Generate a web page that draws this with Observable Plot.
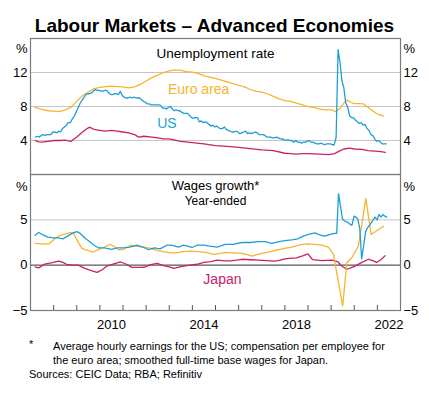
<!DOCTYPE html>
<html>
<head>
<meta charset="utf-8">
<script src="https://cdn.jsdelivr.net/npm/d3@7"></script>
<script src="https://cdn.jsdelivr.net/npm/@observablehq/plot@0.6"></script>
<style>
  html, body { margin: 0; padding: 0; background: #fff; }
  #root { position: relative; width: 429px; height: 398px; font-family: Arial, "Liberation Sans", sans-serif; color: #000; }
  .abs { position: absolute; }
  #title { left: 0; width: 429px; top: 15px; text-align: center; font-weight: bold; font-size: 19px; line-height: 22px; }
  .fn { font-size: 11px; line-height: 14px; white-space: nowrap; }
</style>
</head>
<body>
<div id="root">
  <div id="title" class="abs">Labour Markets – Advanced Economies</div>
  <div id="topPanel" class="abs" style="left:0;top:30px"></div>
  <div id="botPanel" class="abs" style="left:0;top:174px"></div>
  <div class="abs fn" style="left:29px;top:337px">*</div>
  <div class="abs fn" style="left:53px;top:339px">Average hourly earnings for the US; compensation per employee for</div>
  <div class="abs fn" style="left:53px;top:353px">the euro area; smoothed full-time base wages for Japan.</div>
  <div class="abs fn" style="left:29px;top:367px">Sources: CEIC Data; RBA; Refinitiv</div>
</div>
<script>
// ---------- DATA ----------
// US unemployment rate, monthly, from March 2007
const usUnempStart = [2007, 3];
const usUnemp = [
  4.4, 4.5, 4.4, 4.6, 4.7, 4.6, 4.7, 4.7, 4.7, 5.0,
  5.0, 4.9, 5.1, 5.0, 5.4, 5.6, 5.8, 6.1, 6.1, 6.5, 6.8, 7.3,
  7.8, 8.3, 8.7, 9.0, 9.4, 9.5, 9.5, 9.6, 9.8, 10.0, 9.9, 9.9,
  9.8, 9.8, 9.9, 9.9, 9.6, 9.4, 9.4, 9.5, 9.5, 9.4, 9.8, 9.3,
  9.1, 9.0, 9.0, 9.1, 9.0, 9.1, 9.0, 9.0, 9.0, 8.8, 8.6, 8.5,
  8.3, 8.3, 8.2, 8.2, 8.2, 8.2, 8.2, 8.1, 7.8, 7.8, 7.7, 7.9,
  8.0, 7.7, 7.5, 7.6, 7.5, 7.5, 7.3, 7.2, 7.2, 7.2, 6.9, 6.7,
  6.6, 6.7, 6.7, 6.2, 6.3, 6.1, 6.2, 6.1, 5.9, 5.7, 5.8, 5.6,
  5.7, 5.5, 5.4, 5.4, 5.6, 5.3, 5.2, 5.1, 5.0, 5.0, 5.1, 5.0,
  4.8, 4.9, 5.0, 5.1, 4.8, 4.9, 4.8, 4.9, 5.0, 4.9, 4.7, 4.7,
  4.7, 4.6, 4.4, 4.4, 4.4, 4.3, 4.3, 4.4, 4.3, 4.2, 4.2, 4.1,
  4.0, 4.1, 4.0, 4.0, 3.8, 4.0, 3.8, 3.8, 3.7, 3.8, 3.8, 3.9,
  4.0, 3.8, 3.8, 3.7, 3.6, 3.6, 3.7, 3.6, 3.5, 3.6, 3.6, 3.6,
  3.5, 3.5, 4.4, 14.7, 13.2, 11.0, 10.2, 8.4, 7.9, 6.9, 6.7, 6.7,
  6.4, 6.2, 6.0, 6.1, 5.8, 5.9, 5.4, 5.2, 4.7, 4.6, 4.2, 3.9,
  4.0, 3.8, 3.6, 3.6, 3.6
];
// Euro area unemployment rate [year, %]
const euroUnemp = [
  [2007.2, 7.9], [2007.5, 7.65], [2007.75, 7.5], [2008.0, 7.45], [2008.25, 7.4], [2008.5, 7.6],
  [2008.75, 7.9], [2009.0, 8.6], [2009.25, 9.3], [2009.5, 9.7], [2009.75, 10.1], [2010.0, 10.25],
  [2010.25, 10.35], [2010.5, 10.4], [2010.75, 10.35], [2011.0, 10.3], [2011.25, 10.2], [2011.5, 10.3],
  [2011.75, 10.6], [2012.0, 11.0], [2012.25, 11.4], [2012.5, 11.7], [2012.75, 12.0], [2013.0, 12.2],
  [2013.25, 12.3], [2013.5, 12.25], [2013.75, 12.1], [2014.0, 12.05], [2014.25, 11.9], [2014.5, 11.6],
  [2014.75, 11.45], [2015.0, 11.3], [2015.25, 11.1], [2015.5, 10.9], [2015.75, 10.7], [2016.0, 10.5],
  [2016.25, 10.3], [2016.5, 10.0], [2016.75, 9.8], [2017.0, 9.7], [2017.25, 9.5], [2017.5, 9.2],
  [2017.75, 8.9], [2018.0, 8.7], [2018.25, 8.6], [2018.5, 8.4], [2018.75, 8.2], [2019.0, 8.0],
  [2019.25, 7.9], [2019.5, 7.7], [2019.75, 7.6], [2020.0, 7.6], [2020.2, 7.4], [2020.4, 7.8],
  [2020.55, 8.4], [2020.7, 8.75], [2020.85, 8.5], [2021.0, 8.35], [2021.2, 8.35], [2021.4, 8.3],
  [2021.55, 8.0], [2021.75, 7.6], [2021.95, 7.2], [2022.1, 7.0], [2022.26, 6.9]
];
// Japan unemployment rate [year, %]
const japanUnemp = [
  [2007.2, 4.0], [2007.35, 3.85], [2007.5, 3.8], [2007.75, 3.9], [2008.0, 4.0], [2008.25, 4.0],
  [2008.5, 4.05], [2008.75, 3.9], [2009.0, 4.4], [2009.25, 5.0], [2009.5, 5.5], [2009.58, 5.55],
  [2009.75, 5.3], [2010.0, 5.2], [2010.25, 5.1], [2010.5, 5.2], [2010.75, 5.1], [2011.0, 5.0],
  [2011.25, 4.9], [2011.5, 4.7], [2011.67, 4.4], [2011.9, 4.5], [2012.25, 4.4], [2012.5, 4.3],
  [2012.75, 4.2], [2013.0, 4.2], [2013.5, 3.9], [2014.0, 3.75], [2014.5, 3.6], [2015.0, 3.4],
  [2015.5, 3.3], [2016.0, 3.2], [2016.5, 3.05], [2017.0, 2.9], [2017.5, 2.8], [2018.0, 2.5],
  [2018.25, 2.45], [2018.5, 2.4], [2018.75, 2.45], [2019.0, 2.45], [2019.5, 2.4], [2019.9, 2.35],
  [2020.15, 2.45], [2020.35, 2.75], [2020.55, 3.0], [2020.8, 3.1], [2021.0, 3.0], [2021.33, 2.95],
  [2021.6, 2.8], [2021.9, 2.75], [2022.15, 2.7], [2022.34, 2.6]
];
// US wages growth (average hourly earnings, y/y %) [year, %]
const usWages = [
  [2007.2, 3.3], [2007.35, 3.6], [2007.5, 3.4], [2007.75, 3.1], [2008.0, 3.0], [2008.2, 3.0],
  [2008.4, 2.9], [2008.6, 3.2], [2008.8, 3.5], [2009.0, 3.7], [2009.15, 3.5], [2009.35, 3.0],
  [2009.55, 2.6], [2009.75, 2.2], [2009.95, 1.9], [2010.2, 1.9], [2010.5, 1.75], [2010.75, 1.9],
  [2011.0, 1.9], [2011.3, 2.0], [2011.6, 2.2], [2011.85, 2.0], [2012.1, 1.7], [2012.35, 1.9],
  [2012.6, 1.8], [2012.9, 2.2], [2013.1, 2.2], [2013.4, 2.0], [2013.62, 2.2], [2013.98, 1.95],
  [2014.2, 2.2], [2014.5, 2.2], [2014.75, 2.1], [2015.07, 2.0], [2015.42, 2.3], [2015.75, 2.3],
  [2016.14, 2.5], [2016.5, 2.5], [2016.86, 2.6], [2017.15, 2.6], [2017.43, 2.4], [2017.75, 2.6],
  [2018.0, 2.7], [2018.3, 2.8], [2018.55, 2.9], [2018.8, 3.2], [2019.02, 3.4], [2019.3, 3.55],
  [2019.55, 3.3], [2019.74, 3.2], [2019.96, 3.4], [2020.15, 3.5], [2020.24, 3.5],
  [2020.32, 7.9], [2020.40, 6.6], [2020.49, 5.1], [2020.57, 4.9], [2020.65, 4.8], [2020.74, 4.7],
  [2020.82, 4.5], [2020.90, 4.4], [2020.99, 5.4], [2021.07, 5.3], [2021.15, 5.1], [2021.24, 4.0],
  [2021.32, 0.7], [2021.40, 2.0], [2021.49, 3.7], [2021.57, 4.1], [2021.65, 4.4], [2021.74, 4.7],
  [2021.82, 5.0], [2021.90, 5.3], [2021.99, 5.0], [2022.07, 5.6], [2022.15, 5.3], [2022.24, 5.6],
  [2022.32, 5.4], [2022.40, 5.3]
];
// Euro area wages growth (compensation per employee) [year, %]
const euroWages = [
  [2007.2, 2.4], [2007.5, 2.35], [2007.8, 2.35], [2008.0, 2.8], [2008.2, 3.2], [2008.45, 3.4],
  [2008.7, 3.6], [2008.85, 3.55], [2009.05, 2.6], [2009.22, 1.85], [2009.5, 1.6], [2009.72, 1.45],
  [2010.0, 1.8], [2010.2, 2.0], [2010.45, 2.3], [2010.65, 2.0], [2010.8, 1.7], [2011.03, 1.75],
  [2011.32, 2.2], [2011.55, 2.1], [2011.9, 2.0], [2012.2, 1.85], [2012.48, 1.6], [2012.75, 1.5],
  [2013.05, 1.35], [2013.3, 1.35], [2013.6, 1.5], [2013.92, 1.55], [2014.25, 1.5], [2014.57, 1.4],
  [2014.93, 1.2], [2015.2, 1.3], [2015.42, 1.4], [2015.75, 1.35], [2016.14, 1.3], [2016.35, 1.2],
  [2016.57, 1.0], [2016.9, 1.25], [2017.3, 1.45], [2017.7, 1.7], [2018.0, 1.85], [2018.3, 2.0],
  [2018.73, 2.3], [2019.0, 2.35], [2019.3, 2.3], [2019.6, 2.2], [2019.88, 2.0], [2020.1, 1.2],
  [2020.5, -4.5], [2020.68, 0.3], [2020.9, 0.85], [2021.18, 2.1], [2021.5, 7.35], [2021.73, 3.4],
  [2021.97, 3.8], [2022.26, 4.3]
];
// Japan wages growth (smoothed full-time base wages) [year, %]
const japanWages = [
  [2007.2, -0.2], [2007.35, -0.3], [2007.65, 0.15], [2007.9, 0.25], [2008.22, 0.45], [2008.4, 0.3],
  [2008.6, 0.05], [2008.85, 0.0], [2009.07, 0.0], [2009.3, -0.3], [2009.5, -0.5], [2009.7, -0.65],
  [2009.88, -0.8], [2010.1, -0.5], [2010.3, -0.1], [2010.6, 0.15], [2010.9, 0.35], [2011.15, 0.1],
  [2011.38, -0.25], [2011.76, -0.25], [2011.96, -0.2], [2012.2, 0.05], [2012.48, 0.2], [2012.75, -0.05],
  [2013.0, -0.2], [2013.2, -0.35], [2013.5, -0.15], [2013.9, 0.0], [2014.2, 0.1], [2014.5, 0.3],
  [2014.8, 0.4], [2015.07, 0.55], [2015.42, 0.47], [2015.65, 0.47], [2015.9, 0.55], [2016.14, 0.65],
  [2016.5, 0.6], [2016.86, 0.55], [2017.2, 0.5], [2017.58, 0.45], [2017.8, 0.55], [2018.0, 0.7],
  [2018.2, 0.75], [2018.5, 0.8], [2018.8, 1.05], [2019.0, 1.25], [2019.2, 0.6], [2019.6, 0.5],
  [2020.03, 0.55], [2020.3, 0.35], [2020.46, -0.1], [2020.68, -0.45], [2020.85, -0.3], [2021.03, -0.1],
  [2021.33, 0.3], [2021.62, 0.65], [2021.8, 0.5], [2021.97, 0.3], [2022.15, 0.6], [2022.34, 1.05]
];
// Axis ticks and labels
const xDomain = [2007, 2023];
const yearTicks = [2008, 2009, 2010, 2011, 2012, 2013, 2014, 2015, 2016, 2017, 2018, 2019, 2020, 2021, 2022];
const yearLabels = [2010, 2014, 2018, 2022];
const unempTicks = [4, 8, 12];
const unempDomain = [0, 16];
const wagesTicks = [-5, 0, 5];
const wagesDomain = [-5, 10];
// Series labels (anchored in data units)
const unempLabels = [
  {t: 2014.27, v: 9.95, text: "Euro area", key: "euro"},
  {t: 2012.9, v: 6.05, text: "US", key: "us"}
];
const wagesLabels = [
  {t: 2015.3, v: -1.6, text: "Japan", key: "japan"}
];
const colors = {us: "#1d9fd6", euro: "#f6b52e", japan: "#c8206a"};

// ---------- BUILD ----------
const toRows = arr => arr.map(([t, v]) => ({t, v}));
const usUnempRows = usUnemp.map((v, i) => ({t: usUnempStart[0] + (usUnempStart[1] - 1 + i) / 12 + 0.05, v}));

const font = 'Arial, "Liberation Sans", sans-serif';
const common = {
  width: 429,
  marginLeft: 30,
  marginRight: 29,
  style: {fontFamily: font, fontSize: "13px", background: "transparent", overflow: "visible", color: "#000"}
};
const lineOpts = c => ({x: "t", y: "v", stroke: c, strokeWidth: 1.3, strokeLinejoin: "round"});
const gridStroke = "#c6c6c6";
const frameStroke = "#7a7a7a";

const topPlot = Plot.plot({
  ...common,
  height: 144,
  marginTop: 8,
  marginBottom: 0,
  x: {domain: xDomain, axis: null},
  y: {domain: unempDomain, axis: null},
  marks: [
    Plot.gridY(unempTicks, {stroke: gridStroke, strokeOpacity: 1, strokeWidth: 1}),
    Plot.line(toRows(japanUnemp), lineOpts(colors.japan)),
    Plot.line(toRows(euroUnemp), lineOpts(colors.euro)),
    Plot.line(usUnempRows, lineOpts(colors.us)),
    Plot.axisY({ticks: unempTicks, anchor: "left", tickSize: 0, tickPadding: 3, label: null, fontSize: 13}),
    Plot.axisY({ticks: unempTicks, anchor: "right", tickSize: 0, tickPadding: 3, label: null, fontSize: 13}),
    Plot.text(["%"], {frameAnchor: "top-left", dx: -3, dy: 5, textAnchor: "end", fontSize: 13}),
    Plot.text(["%"], {frameAnchor: "top-right", dx: 3, dy: 5, textAnchor: "start", fontSize: 13}),
    Plot.text(["Unemployment rate"], {frameAnchor: "top", dy: 9.5, fontSize: 13.5}),
    Plot.text(unempLabels, {x: "t", y: "v", text: "text", fill: d => colors[d.key], fontSize: 14}),
    Plot.frame({stroke: frameStroke, strokeWidth: 1.2})
  ]
});

const botPlot = Plot.plot({
  ...common,
  height: 162,
  marginTop: 0,
  marginBottom: 26,
  x: {domain: xDomain, axis: null},
  y: {domain: wagesDomain, axis: null},
  marks: [
    Plot.gridY([5], {stroke: gridStroke, strokeOpacity: 1, strokeWidth: 1}),
    Plot.ruleY([0], {stroke: "#5a5a5a", strokeWidth: 1.2}),
    Plot.line(toRows(japanWages), lineOpts(colors.japan)),
    Plot.line(toRows(euroWages), lineOpts(colors.euro)),
    Plot.line(toRows(usWages), lineOpts(colors.us)),
    Plot.axisX({ticks: yearTicks, anchor: "bottom", tickSize: -5, tickFormat: () => "", label: null, stroke: "#555"}),
    Plot.axisX({ticks: yearLabels.map(y => y + 0.5), anchor: "bottom", tickSize: 0, tickPadding: 9, tickFormat: d => String(Math.floor(d)), label: null, fontSize: 13}),
    Plot.axisY({ticks: wagesTicks, anchor: "left", tickSize: 0, tickPadding: 3, label: null, fontSize: 13}),
    Plot.axisY({ticks: wagesTicks, anchor: "right", tickSize: 0, tickPadding: 3, label: null, fontSize: 13}),
    Plot.text(["%"], {frameAnchor: "top-left", dx: -3, dy: 7, textAnchor: "end", fontSize: 13}),
    Plot.text(["%"], {frameAnchor: "top-right", dx: 3, dy: 7, textAnchor: "start", fontSize: 13}),
    Plot.text(["Wages growth*"], {frameAnchor: "top", dy: 6.5, fontSize: 13}),
    Plot.text(["Year-ended"], {frameAnchor: "top", dy: 21.5, fontSize: 12}),
    Plot.text(wagesLabels, {x: "t", y: "v", text: "text", fill: d => colors[d.key], fontSize: 14}),
    Plot.frame({stroke: frameStroke, strokeWidth: 1.2})
  ]
});

document.getElementById("topPanel").append(topPlot);
document.getElementById("botPanel").append(botPlot);
</script>
</body>
</html>
